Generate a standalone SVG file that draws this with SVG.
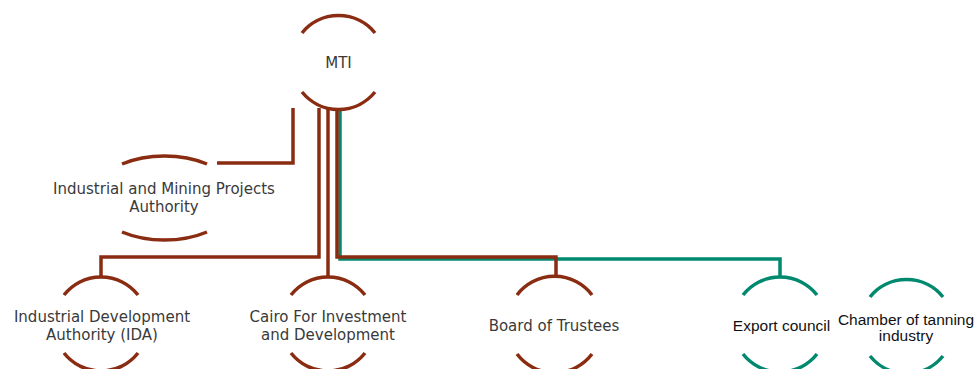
<svg xmlns="http://www.w3.org/2000/svg" width="977" height="369" viewBox="0 0 977 369">
  <style>
    .arc-r { fill: none; stroke: #8A2C12; stroke-width: 3.5; }
    .arc-g { fill: none; stroke: #00896F; stroke-width: 3.5; }
    .link-r { fill: none; stroke: #8A2C12; stroke-width: 3.5; }
    .link-g { fill: none; stroke: #00896F; stroke-width: 3.5; }
    .lbl { font-family: "DejaVu Sans", "Open Sans", sans-serif; font-size: 15px; fill: #3a3a3a; text-anchor: middle; }
    .lbl2 { font-family: "Liberation Sans", Arial, sans-serif; font-size: 15.5px; fill: #111111; text-anchor: middle; }
  </style>

  <!-- connectors -->
  <g id="connectors">
    <path class="link-g" d="M340,108 V259 H780 V277"/>
    <path class="link-r" d="M337,108 V257 H556 V278"/>
    <path class="link-r" d="M319,108 V257 H101 V278"/>
    <path class="link-r" d="M328,108 V278"/>
    <path class="link-r" d="M293,108 V163 H217"/>
  </g>

  <!-- MTI -->
  <g id="mti">
    <path class="arc-r" d="M302,33 A47,47 0 0 1 375,33"/>
    <path class="arc-r" d="M302,92 A47,47 0 0 0 375,92"/>
    <text class="lbl" x="338.5" y="68">MTI</text>
  </g>

  <!-- Industrial and Mining Projects Authority -->
  <g id="impa">
    <path class="arc-r" d="M122,164 A73,43 0 0 1 207,164"/>
    <path class="arc-r" d="M122,232 A73,43 0 0 0 207,232"/>
    <text class="lbl" x="164" y="194">Industrial and Mining Projects</text>
    <text class="lbl" x="164" y="212">Authority</text>
  </g>

  <!-- Industrial Development Authority -->
  <g id="ida">
    <path class="arc-r" d="M64,295 A47,47 0 0 1 138,295"/>
    <path class="arc-r" d="M64,353 A47,47 0 0 0 138,353"/>
    <text class="lbl" x="102" y="322">Industrial Development</text>
    <text class="lbl" x="102" y="340">Authority (IDA)</text>
  </g>

  <!-- Cairo For Investment and Development -->
  <g id="cairo">
    <path class="arc-r" d="M291,295 A47,47 0 0 1 365,295"/>
    <path class="arc-r" d="M291,353 A47,47 0 0 0 365,353"/>
    <text class="lbl" x="328" y="322">Cairo For Investment</text>
    <text class="lbl" x="328" y="340">and Development</text>
  </g>

  <!-- Board of Trustees -->
  <g id="board">
    <path class="arc-r" d="M517,295 A47,47 0 0 1 592,295"/>
    <path class="arc-r" d="M517,354 A47,47 0 0 0 592,354"/>
    <text class="lbl" x="554" y="331">Board of Trustees</text>
  </g>

  <!-- Export council -->
  <g id="export">
    <path class="arc-g" d="M743,295 A47,47 0 0 1 817,295"/>
    <path class="arc-g" d="M743,354 A47,47 0 0 0 817,354"/>
    <text class="lbl2" x="781.5" y="331">Export council</text>
  </g>

  <!-- Chamber of tanning industry -->
  <g id="chamber">
    <path class="arc-g" d="M870,297 A47,47 0 0 1 943,297"/>
    <path class="arc-g" d="M870,356 A47,47 0 0 0 943,356"/>
    <text class="lbl2" x="906" y="324.5">Chamber of tanning</text>
    <text class="lbl2" x="906" y="341">industry</text>
  </g>
</svg>
